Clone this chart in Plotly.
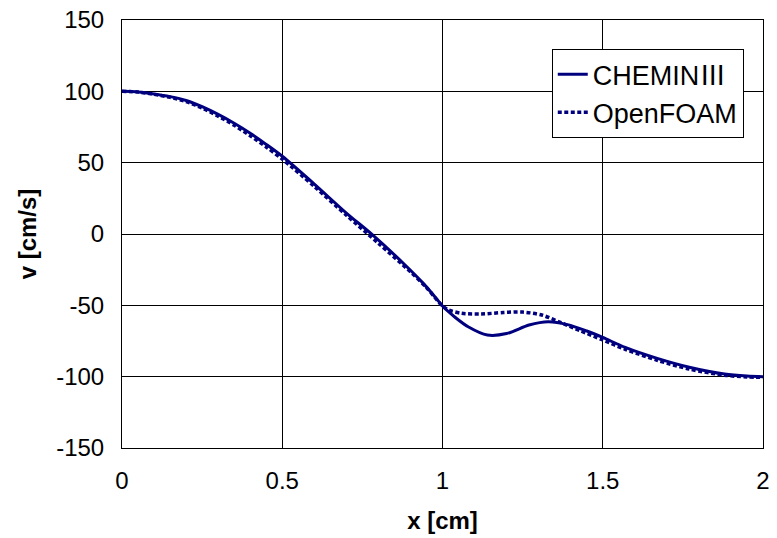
import plotly.graph_objects as go

# Velocity profile v(x) along the channel: CHEMIN III vs OpenFOAM
x_chemin = [0.0, 0.05, 0.1, 0.15, 0.2, 0.25, 0.3, 0.35, 0.4, 0.45, 0.5,
            0.6, 0.7, 0.78, 0.88, 0.94, 0.98, 1.0, 1.04, 1.08, 1.14, 1.2,
            1.27, 1.33, 1.39, 1.45, 1.5, 1.57, 1.67, 1.77, 1.88, 1.95, 2.0]
v_chemin = [100.0, 99.6, 98.2, 96.3, 93.6, 89.2, 83.8, 77.6, 70.6, 62.8,
            54.5, 35.0, 14.7, -0.3, -21.0, -34.6, -45.0, -50.5, -58.5,
            -65.0, -70.8, -69.8, -63.8, -61.5, -63.5, -68.0, -72.5, -79.5,
            -87.2, -93.4, -98.2, -99.6, -100.0]

x_foam = [0.0, 0.05, 0.1, 0.15, 0.2, 0.25, 0.3, 0.35, 0.4, 0.45, 0.5,
          0.6, 0.7, 0.8, 0.9, 0.95, 1.0, 1.02, 1.06, 1.12, 1.19, 1.25,
          1.31, 1.37, 1.43, 1.5, 1.57, 1.67, 1.77, 1.88, 1.95, 2.0]
v_foam = [100.0, 99.5, 97.9, 95.8, 92.8, 88.3, 82.6, 76.2, 68.9, 61.0,
          52.5, 33.3, 13.2, -6.5, -26.5, -37.5, -50.5, -53.3, -55.6, -56.1,
          -55.0, -54.7, -56.8, -62.2, -67.8, -74.3, -80.8, -88.5, -94.7,
          -99.0, -100.2, -100.5]

x_ticks = [0, 0.5, 1, 1.5, 2]
x_ticktext = ["0", "0.5", "1", "1.5", "2"]
y_ticks = [-150, -100, -50, 0, 50, 100, 150]
y_ticktext = ["-150", "-100", "-50", "0", "50", "100", "150"]

navy = "#00007f"
font_family = "Liberation Sans, Arial, sans-serif"
cjk_family = "Noto Sans CJK JP"

fig = go.Figure()
fig.add_trace(go.Scatter(
    x=x_chemin, y=v_chemin, mode="lines",
    name=f"CHEMIN<span style='font-family:{cjk_family}'>\u2162</span>",
    line=dict(color=navy, width=3, shape="spline", smoothing=0.8),
))
fig.add_trace(go.Scatter(
    x=x_foam, y=v_foam, mode="lines", name="OpenFOAM",
    line=dict(color=navy, width=3.5, shape="spline", smoothing=0.8,
              dash="4px,2.5px"),
))

axis_common = dict(
    showgrid=True, gridcolor="#000000", gridwidth=1,
    showline=True, linecolor="#000000", linewidth=1, mirror=True,
    zeroline=False, ticks="", color="#000000", automargin=False,
    tickfont=dict(family=font_family, size=24, color="#000000"),
)

fig.update_layout(
    width=777, height=538,
    margin=dict(l=122, r=14, t=20, b=90),
    paper_bgcolor="white", plot_bgcolor="white",
    font=dict(family=font_family, color="#000000"),
    showlegend=True,
    legend=dict(
        x=0.97, y=0.932, xanchor="right", yanchor="top",
        bgcolor="white", bordercolor="#000000", borderwidth=1,
        font=dict(family=font_family, size=27, color="#000000"),
        itemwidth=30,
    ),
    xaxis=dict(
        range=[0, 2], tickvals=x_ticks, ticktext=x_ticktext,
        ticklabelstandoff=11,
        title=dict(text="<b>x [cm]</b>", standoff=19,
                   font=dict(family=font_family, size=24, color="#000000")),
        **axis_common,
    ),
    yaxis=dict(
        range=[-150, 150], tickvals=y_ticks, ticktext=y_ticktext,
        ticklabelstandoff=12,
        title=dict(text="<b>v [cm/s]</b>", standoff=12,
                   font=dict(family=font_family, size=24, color="#000000")),
        **axis_common,
    ),
)

fig.write_html("out.html")
